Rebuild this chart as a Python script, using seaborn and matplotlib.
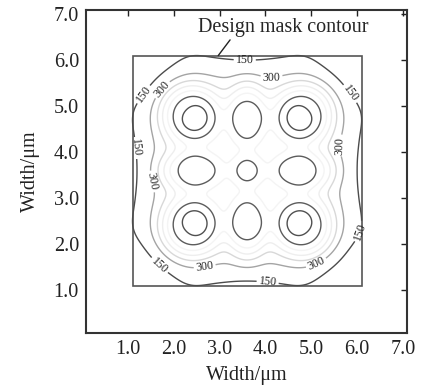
import numpy as np
import matplotlib
matplotlib.use("Agg")
import matplotlib.pyplot as plt
from matplotlib.patches import Rectangle
from math import erf
import seaborn as sns

# design mask (square) and blurred plateau of the aerial image
mask_lo, mask_hi = 1.1, 6.1
plateau_lo, plateau_hi = 1.71, 5.49
plateau_height = 700
edge_blur = 1.0

# intensity lobes: x, y, height, sigma_x, sigma_y (super-gaussian, power 1.5)
lobe_x = [2.35, 4.85, 2.35, 4.85, 3.6, 3.6, 2.35, 4.85, 3.6]
lobe_y = [4.85, 4.85, 2.35, 2.35, 4.85, 2.35, 3.6, 3.6, 3.6]
lobe_h = [617, 617, 617, 617, 433, 433, 433, 433, 261]
lobe_sx = [0.46, 0.46, 0.46, 0.46, 0.30, 0.30, 0.46, 0.46, 0.249]
lobe_sy = [0.46, 0.46, 0.46, 0.46, 0.46, 0.46, 0.30, 0.30, 0.249]
lobe_power = 1.5

# ripples along the mask edge
ripple_x = [1.1, 1.1, 6.1, 6.1, 2.35, 4.85, 2.35, 4.85, 1.1, 6.1, 3.6, 3.6]
ripple_y = [2.35, 4.85, 2.35, 4.85, 1.1, 1.1, 6.1, 6.1, 3.6, 3.6, 1.1, 6.1]
ripple_h = [35, 35, 35, 35, 35, 35, 35, 35, -15, -15, -15, -15]
ripple_s = 0.35

levels = [150, 300, 450, 600, 750, 900, 1050]
level_colors = ["#4c4c4c", "#a4a4a4", "#d8d8d8", "#eeeeee", "#f4f4f4", "#5c5c5c", "#505050"]

labels_150 = [(3.55, 6.07), (5.89, 5.3), (1.28, 5.3), (1.26, 4.1), (6.1, 2.26), (1.59, 1.43), (4.06, 1.28)]
labels_300 = [(4.14, 5.5), (1.7, 5.4), (1.48, 3.35), (5.56, 4.15), (2.68, 1.48), (5.15, 1.5)]

ticks = [1, 2, 3, 4, 5, 6, 7]
tick_labels = ["1.0", "2.0", "3.0", "4.0", "5.0", "6.0", "7.0"]

# build the field
xs = np.linspace(0.05, 7.15, 500)
ys = np.linspace(0.05, 7.15, 500)
X, Y = np.meshgrid(xs, ys)
verf = np.vectorize(erf)


def edge(v):
    return 0.5 * (verf((v - plateau_lo) / edge_blur) - verf((v - plateau_hi) / edge_blur))


Z = plateau_height * edge(X) * edge(Y)
for cx, cy, h, sx, sy in zip(lobe_x, lobe_y, lobe_h, lobe_sx, lobe_sy):
    u = (X - cx) ** 2 / (2 * sx ** 2) + (Y - cy) ** 2 / (2 * sy ** 2)
    Z = Z + h * np.exp(-u ** lobe_power)
for cx, cy, h in zip(ripple_x, ripple_y, ripple_h):
    Z = Z + h * np.exp(-((X - cx) ** 2 + (Y - cy) ** 2) / (2 * ripple_s ** 2))

sns.set_style("white")
plt.rcParams["font.family"] = ["Liberation Serif", "DejaVu Serif"]

fig = plt.figure(figsize=(4.27, 3.88), dpi=100)
ax = fig.add_axes([0.201, 0.142, 0.752, 0.832])

cs = ax.contour(X, Y, Z, levels=levels, colors=level_colors, linewidths=1.0)
lab = ax.clabel(cs, levels=[150, 300], inline=True, fontsize=8.5, fmt="%d",
                manual=labels_150 + labels_300, inline_spacing=2)
for t in lab:
    t.set_color("#222222")

ax.add_patch(Rectangle((mask_lo, mask_lo), mask_hi - mask_lo, mask_hi - mask_lo,
                       fill=False, edgecolor="#555555", linewidth=1.2))
ax.annotate("Design mask contour", xy=(2.97, 6.1), xytext=(4.4, 6.72),
            ha="center", va="center", fontsize=14.5,
            arrowprops=dict(arrowstyle="-", color="#222222", lw=1.0,
                            shrinkA=0, shrinkB=0, relpos=(0.2, 0.0)))

ax.set_xlim(0.08, 7.09)
ax.set_ylim(0.07, 7.09)
ax.set_xticks(ticks)
ax.set_xticklabels(tick_labels)
ax.set_yticks(ticks)
ax.set_yticklabels(tick_labels)
ax.tick_params(direction="in", length=4, width=1, top=True, right=True,
               labelsize=14.5, colors="#222222", pad=5)
for s in ax.spines.values():
    s.set_linewidth(1.5)
    s.set_color("#333333")
ax.set_xlabel("Width/μm", fontsize=14.5, color="#222222", labelpad=5)
ax.set_ylabel("Width/μm", fontsize=14.5, color="#222222", labelpad=10)

fig.savefig("out.png", dpi=100)
